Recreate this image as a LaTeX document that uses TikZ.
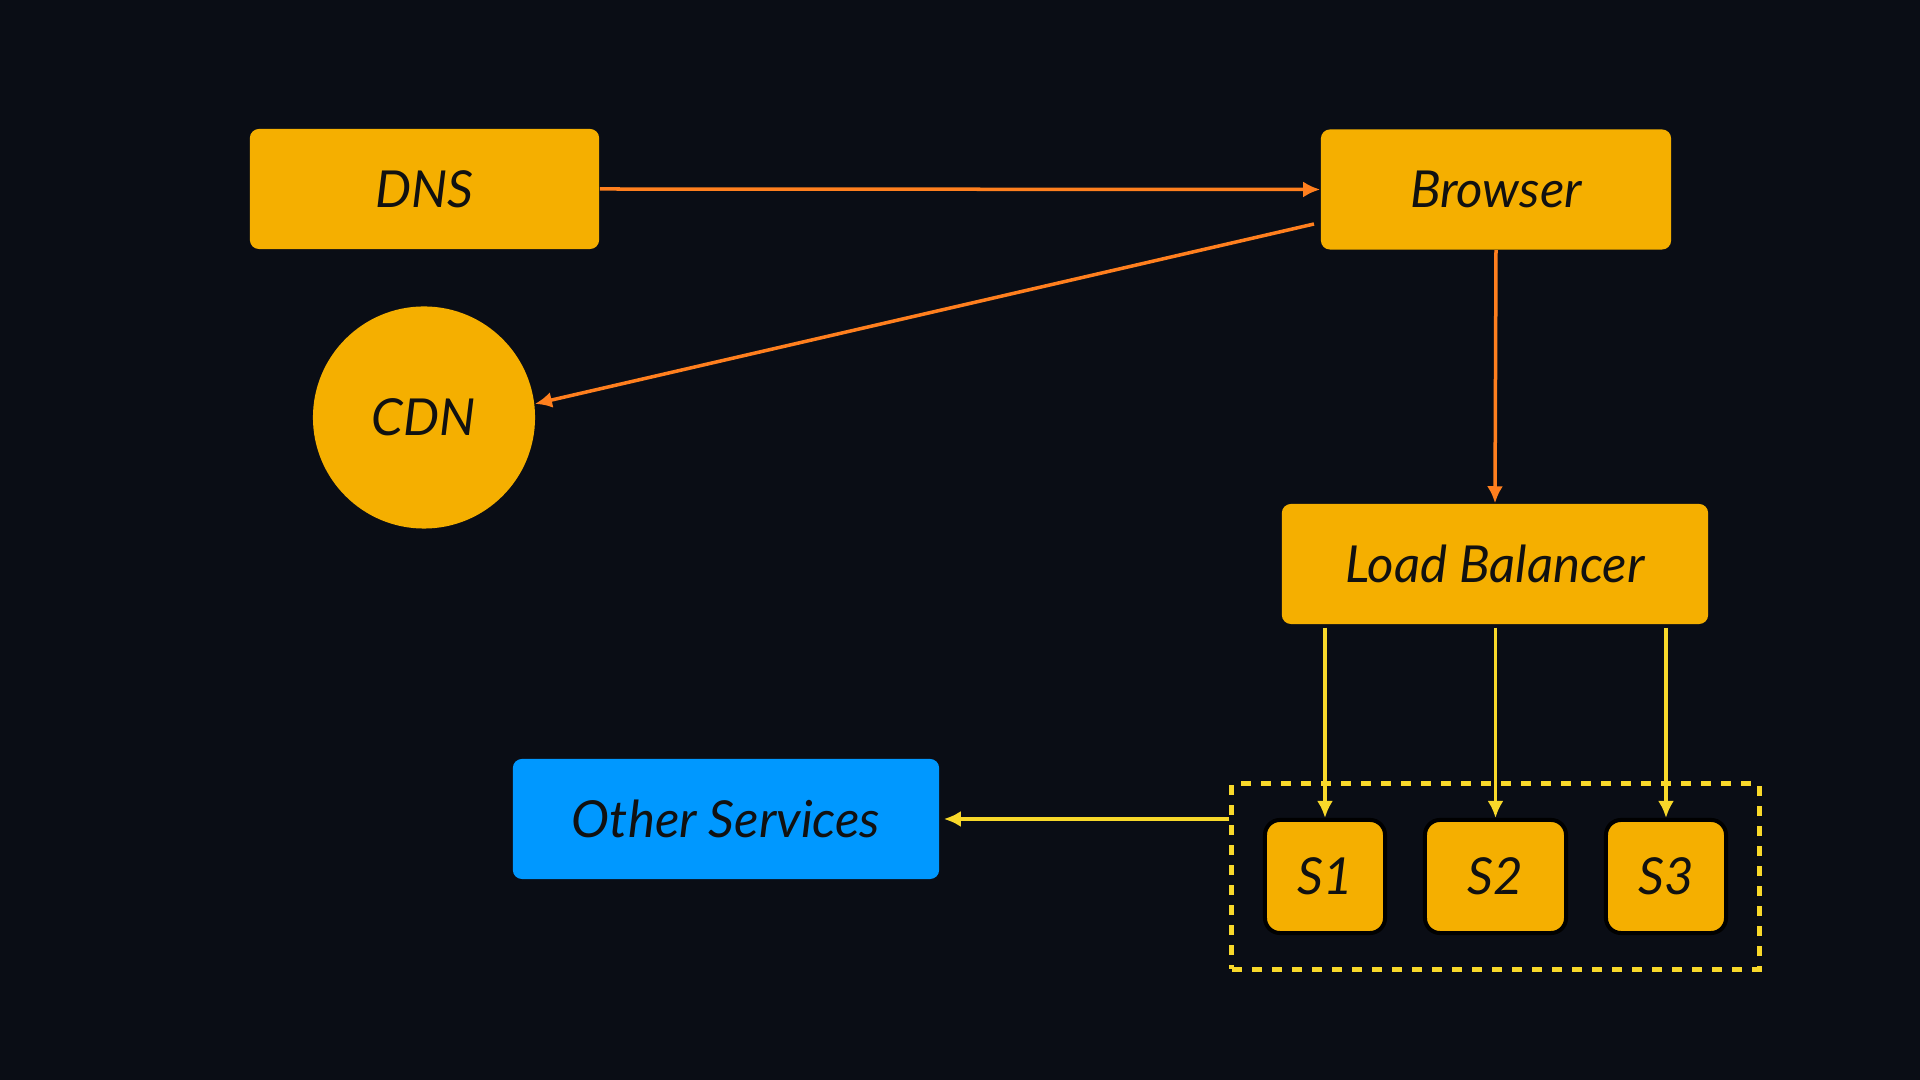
\documentclass[tikz,border=0pt]{standalone}
\usepackage{fontspec}
\setmainfont{Lato}
\usetikzlibrary{arrows.meta}

\definecolor{bgdark}{HTML}{0A0D15}
\definecolor{boxorange}{HTML}{F5AF00}
\definecolor{boxblue}{HTML}{0098FF}
\definecolor{linkorange}{HTML}{FF7F1E}
\definecolor{linkyellow}{HTML}{F8D82A}
\definecolor{inkblack}{HTML}{111111}

\tikzset{
box/.style={fill=boxorange, rounded corners=0.09cm, text=inkblack,
  font=\fontsize{14.5}{16}\selectfont\itshape, inner sep=0pt,
  minimum height=1.2cm},
bluebox/.style={box, fill=boxblue},
server/.style={box, draw=black, line width=0.04cm, rounded corners=0.15cm,
  minimum height=1.13cm},
groupbox/.style={draw=linkyellow, line width=0.05cm,
  dash pattern=on 0.1cm off 0.1cm, minimum width=5.27cm, minimum height=1.85cm},
orangelink/.style={draw=linkorange, line width=0.035cm,
  -{Latex[length=0.17cm,width=0.16cm]}},
yellowlink/.style={draw=linkyellow, line width=0.035cm,
  -{Latex[length=0.17cm,width=0.16cm]}}
}

\begin{document}
\begin{tikzpicture}[x=0.01cm,y=-0.01cm]

\fill[bgdark] (0,0) rectangle (1920,1080);
\useasboundingbox (0,0) rectangle (1920,1080);

\node[box, minimum width=3.49cm] (dns) at (424.5,189) {DNS};
\node[box, minimum width=3.5cm] (browser) at (1496,189.5) {Browser};
\node[box, circle, minimum size=2.22cm] (cdn) at (424,417.5) {CDN};
\node[box, minimum width=4.26cm] (lb) at (1495,564) {Load Balancer};
\node[bluebox, minimum width=4.26cm] (other) at (726,819) {Other Services};

\node[groupbox] (grp) at (1495.5,876.5) {};
\foreach \i/\x/\w in {1/1325/1.2,2/1495.5/1.41,3/1666/1.2}
\node[server, minimum width=\w cm] (s\i) at (\x,876.5) {S\i};

\coordinate (bleft) at (1314,224);

\draw[orangelink] (dns.east) -- (browser.west);
\draw[orangelink] (bleft) -- (cdn.7);
\draw[orangelink] (browser.south) -- (lb.north);

\foreach \i in {1,2,3}
\draw[yellowlink, shorten <=0.03cm] (lb.south -| s\i.north) -- (s\i.north);
\draw[yellowlink, shorten >=0.04cm] (grp.west |- other.east) -- (other.east);

\end{tikzpicture}
\end{document}
